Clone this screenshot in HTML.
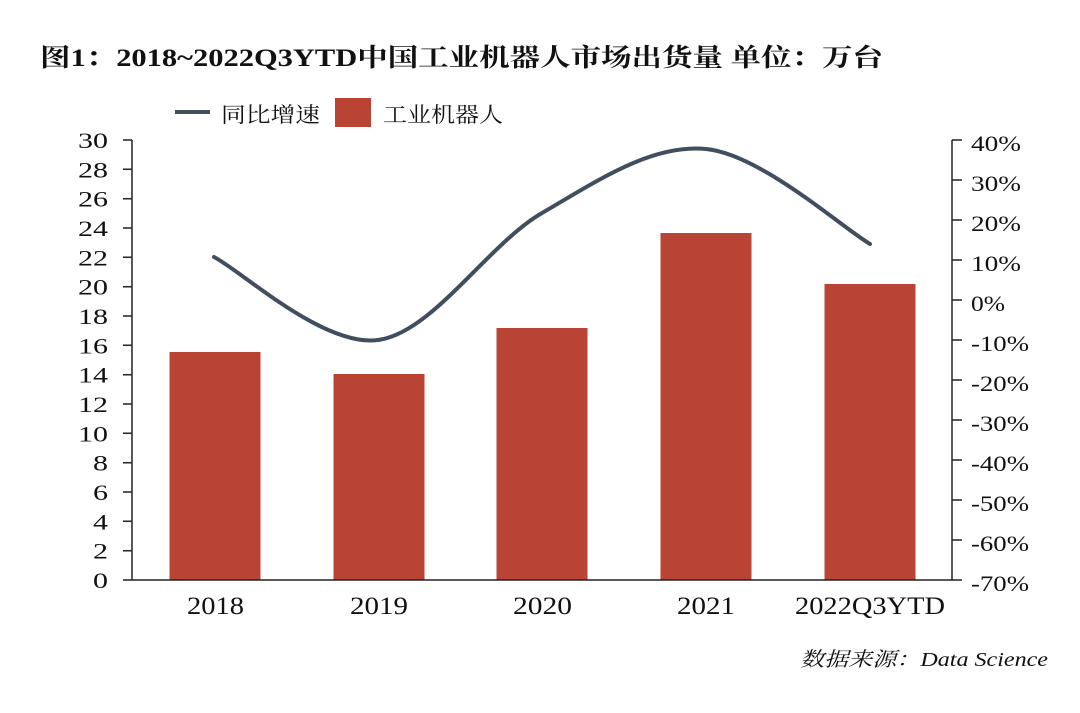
<!DOCTYPE html>
<html><head><meta charset="utf-8"><style>
html,body{margin:0;padding:0;background:#fff;}
svg{display:block;}
.t{font-family:"Liberation Serif","Noto Serif CJK SC",serif;fill:#111;}
</style></head><body>
<svg width="1080" height="713" viewBox="0 0 1080 713" xmlns="http://www.w3.org/2000/svg">
<rect width="1080" height="713" fill="#fff"/>
<text class="t" x="40" y="66" font-size="25" font-weight="700" textLength="843" lengthAdjust="spacingAndGlyphs">图1：2018~2022Q3YTD中国工业机器人市场出货量 单位：万台</text>
<line x1="175" y1="112" x2="210" y2="112" stroke="#414e5e" stroke-width="4"/>
<text class="t" x="221" y="122" font-size="21" textLength="99" lengthAdjust="spacingAndGlyphs" fill="#222">同比增速</text>
<rect x="335" y="98" width="36" height="29" fill="#b94434"/>
<text class="t" x="383" y="122" font-size="21" textLength="120" lengthAdjust="spacingAndGlyphs" fill="#222">工业机器人</text>
<g fill="#b94434">
<rect x="169.5" y="352" width="91" height="228"/>
<rect x="333.5" y="374" width="91" height="206"/>
<rect x="496.5" y="328" width="91" height="252"/>
<rect x="660.5" y="233" width="91" height="347"/>
<rect x="824.5" y="284" width="91" height="296"/>
</g>
<path d="M214,257 C241.3,270.8 323.3,347.3 378,340 C432.7,332.7 487.3,244.8 542,213 C596.7,181.2 651.3,143.8 706,149 C760.7,154.2 842.7,228.2 870,244" fill="none" stroke="#414e5e" stroke-width="4" stroke-linecap="round"/>
<g stroke="#222" stroke-width="1.5" fill="none">
<line x1="132" y1="140" x2="132" y2="580"/>
<line x1="123" y1="580" x2="962" y2="580"/>
<line x1="952" y1="140" x2="952" y2="580"/>
<path d="M123,140H132M123,169.3H132M123,198.7H132M123,228H132M123,257.3H132M123,286.7H132M123,316H132M123,345.3H132M123,374.7H132M123,404H132M123,433.3H132M123,462.7H132M123,492H132M123,521.3H132M123,550.7H132"/>
<path d="M952,140H962M952,180H962M952,220H962M952,260H962M952,300H962M952,340H962M952,380H962M952,420H962M952,460H962M952,500H962M952,540H962"/>
</g>
<g class="t" font-size="22" text-anchor="end">
<text x="108" y="148" textLength="30" lengthAdjust="spacingAndGlyphs">30</text>
<text x="108" y="177.3" textLength="30" lengthAdjust="spacingAndGlyphs">28</text>
<text x="108" y="206.7" textLength="30" lengthAdjust="spacingAndGlyphs">26</text>
<text x="108" y="236" textLength="30" lengthAdjust="spacingAndGlyphs">24</text>
<text x="108" y="265.3" textLength="30" lengthAdjust="spacingAndGlyphs">22</text>
<text x="108" y="294.7" textLength="30" lengthAdjust="spacingAndGlyphs">20</text>
<text x="108" y="324" textLength="30" lengthAdjust="spacingAndGlyphs">18</text>
<text x="108" y="353.3" textLength="30" lengthAdjust="spacingAndGlyphs">16</text>
<text x="108" y="382.7" textLength="30" lengthAdjust="spacingAndGlyphs">14</text>
<text x="108" y="412" textLength="30" lengthAdjust="spacingAndGlyphs">12</text>
<text x="108" y="441.3" textLength="30" lengthAdjust="spacingAndGlyphs">10</text>
<text x="108" y="470.7" textLength="15" lengthAdjust="spacingAndGlyphs">8</text>
<text x="108" y="500" textLength="15" lengthAdjust="spacingAndGlyphs">6</text>
<text x="108" y="529.3" textLength="15" lengthAdjust="spacingAndGlyphs">4</text>
<text x="108" y="558.7" textLength="15" lengthAdjust="spacingAndGlyphs">2</text>
<text x="108" y="588" textLength="15" lengthAdjust="spacingAndGlyphs">0</text>
</g>
<g class="t" font-size="22">
<text x="971" y="151" textLength="50" lengthAdjust="spacingAndGlyphs">40%</text>
<text x="971" y="191" textLength="50" lengthAdjust="spacingAndGlyphs">30%</text>
<text x="971" y="231" textLength="50" lengthAdjust="spacingAndGlyphs">20%</text>
<text x="971" y="271" textLength="50" lengthAdjust="spacingAndGlyphs">10%</text>
<text x="971" y="311" textLength="34" lengthAdjust="spacingAndGlyphs">0%</text>
<text x="971" y="351" textLength="58" lengthAdjust="spacingAndGlyphs">-10%</text>
<text x="971" y="391" textLength="58" lengthAdjust="spacingAndGlyphs">-20%</text>
<text x="971" y="431" textLength="58" lengthAdjust="spacingAndGlyphs">-30%</text>
<text x="971" y="471" textLength="58" lengthAdjust="spacingAndGlyphs">-40%</text>
<text x="971" y="511" textLength="58" lengthAdjust="spacingAndGlyphs">-50%</text>
<text x="971" y="551" textLength="58" lengthAdjust="spacingAndGlyphs">-60%</text>
<text x="971" y="591" textLength="58" lengthAdjust="spacingAndGlyphs">-70%</text>
</g>
<g class="t" font-size="25">
<text x="187" y="614" textLength="57" lengthAdjust="spacingAndGlyphs">2018</text>
<text x="350" y="614" textLength="58" lengthAdjust="spacingAndGlyphs">2019</text>
<text x="513" y="614" textLength="59" lengthAdjust="spacingAndGlyphs">2020</text>
<text x="677" y="614" textLength="58" lengthAdjust="spacingAndGlyphs">2021</text>
<text x="795" y="614" textLength="150" lengthAdjust="spacingAndGlyphs">2022Q3YTD</text>
</g>
<text class="t" x="800" y="666" font-size="20" font-style="italic" textLength="248" lengthAdjust="spacingAndGlyphs" fill="#222">数据来源：Data Science</text>
</svg>
</body></html>
